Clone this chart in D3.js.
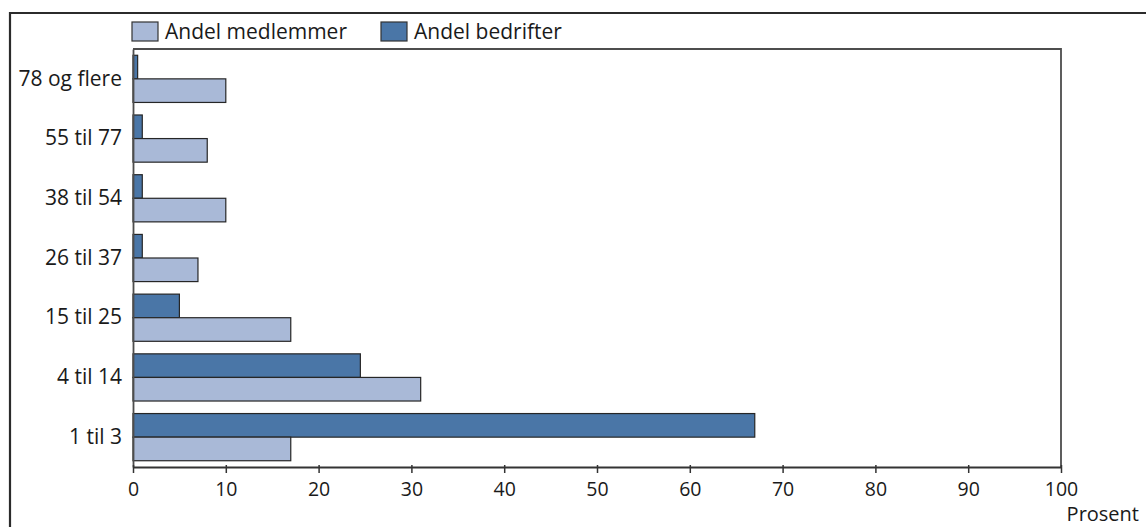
<!DOCTYPE html>
<html>
<head>
<meta charset="utf-8">
<script src="https://cdn.jsdelivr.net/npm/d3@7"></script>
<style>
  html, body { margin: 0; padding: 0; background: #fff; }
  svg { display: block; font-family: "Open Sans", "Noto Sans", sans-serif; }
</style>
</head>
<body>
<svg id="chart" width="1146" height="527"></svg>
<script>
// Bedriftsstørrelse (antall ansatte), nederst til øverst
const categories = ["1 til 3", "4 til 14", "15 til 25", "26 til 37", "38 til 54", "55 til 77", "78 og flere"];
const seriesNames = ["Andel bedrifter", "Andel medlemmer"];
const andelBedrifter = [67, 24.5, 5, 1, 1, 1, 0.5];
const andelMedlemmer = [17, 31, 17, 7, 10, 8, 10];
const xTicks = [0, 10, 20, 30, 40, 50, 60, 70, 80, 90, 100];
const colors = { "Andel medlemmer": "#a9b9d7", "Andel bedrifter": "#4a76a7" };

const svg = d3.select("#chart");
const plot = { left: 133, right: 1061, top: 49, bottom: 467 };
const fontFam = "'Open Sans', 'Noto Sans', sans-serif";

// Outer frame (left and top edges)
svg.append("path")
  .attr("d", `M10,527 V13 H1146`)
  .attr("fill", "none").attr("stroke", "#2b2b2b").attr("stroke-width", 2.2);

const x = d3.scaleLinear().domain([0, 100]).range([plot.left, plot.right]);
const y = d3.scaleBand()
  .domain(categories.slice().reverse())
  .range([plot.top, plot.bottom])
  .paddingInner(0.21).paddingOuter(0.105);
const ySub = d3.scaleBand().domain(seriesNames).range([0, y.bandwidth()]);

// Plot frame: top and right edges
svg.append("path")
  .attr("d", `M${plot.left},${plot.top} H${plot.right} V${plot.bottom}`)
  .attr("fill", "none").attr("stroke", "#4d4d4d").attr("stroke-width", 1.8);

const rows = categories.map((c, i) => ({
  cat: c,
  vals: [
    { s: "Andel bedrifter", v: andelBedrifter[i] },
    { s: "Andel medlemmer", v: andelMedlemmer[i] }
  ]
}));

const g = svg.append("g");
g.selectAll("g.row").data(rows).join("g")
  .attr("class", "row")
  .attr("transform", d => `translate(0,${y(d.cat)})`)
  .selectAll("rect").data(d => d.vals).join("rect")
  .attr("x", x(0))
  .attr("y", d => ySub(d.s))
  .attr("width", d => x(d.v) - x(0))
  .attr("height", ySub.bandwidth())
  .attr("fill", d => colors[d.s])
  .attr("stroke", "#262626").attr("stroke-width", 1.2);

// Category axis
const yAxis = svg.append("g")
  .attr("transform", `translate(${plot.left},0)`)
  .call(d3.axisLeft(y).tickSize(0).tickPadding(11));
yAxis.select(".domain").attr("stroke", "#4d4d4d").attr("stroke-width", 1.8);
yAxis.selectAll("text").attr("font-size", 21).attr("fill", "#1a1a1a")
  .attr("font-family", fontFam);

// Value axis
const xAxis = svg.append("g")
  .attr("transform", `translate(0,${plot.bottom})`)
  .call(d3.axisBottom(x).tickValues(xTicks).tickSize(6).tickPadding(9).tickSizeOuter(0));
xAxis.select(".domain").attr("stroke", "#333").attr("stroke-width", 1.8);
xAxis.selectAll(".tick line").attr("stroke", "#333").attr("stroke-width", 1.5).attr("y1", -2);
xAxis.selectAll("text").attr("font-size", 19.5).attr("fill", "#1a1a1a")
  .attr("font-family", fontFam);

svg.append("text")
  .attr("x", 1139).attr("y", 521)
  .attr("text-anchor", "end")
  .attr("font-size", 20).attr("fill", "#1a1a1a")
  .text("Prosent");

// Legend
const legendItems = [
  { s: "Andel medlemmer", x: 132 },
  { s: "Andel bedrifter", x: 381 }
];
const lg = svg.append("g").selectAll("g").data(legendItems).join("g")
  .attr("transform", d => `translate(${d.x},22)`);
lg.append("rect")
  .attr("width", 26).attr("height", 19)
  .attr("fill", d => colors[d.s])
  .attr("stroke", "#333").attr("stroke-width", 1.2);
lg.append("text")
  .attr("x", 33).attr("y", 17)
  .attr("font-size", 21).attr("fill", "#1a1a1a")
  .text(d => d.s);
</script>
</body>
</html>
